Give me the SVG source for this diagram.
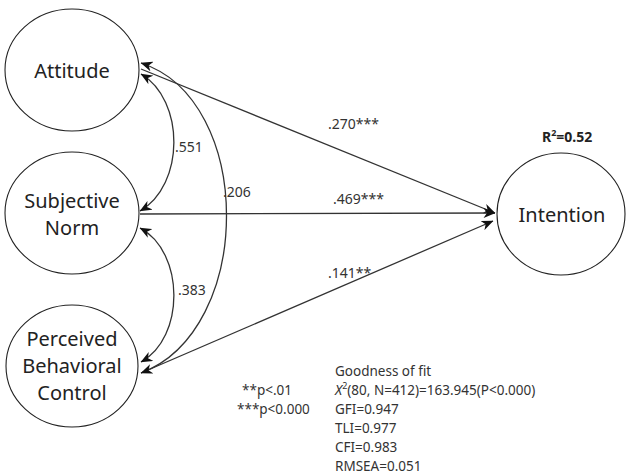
<svg xmlns="http://www.w3.org/2000/svg" width="626" height="476" viewBox="0 0 626 476">
<defs>
<style>
.node ellipse{fill:#fff;stroke:#222;stroke-width:1.1}
.nt{font-family:"Noto Sans","Open Sans","DejaVu Sans",sans-serif;font-size:20px;fill:#222;text-anchor:middle}
.lbl{font-family:"Noto Sans","Open Sans","DejaVu Sans",sans-serif;font-size:14px;fill:#333}
.fit{font-family:"Noto Sans","Open Sans","DejaVu Sans",sans-serif;font-size:13.5px;fill:#333}
.conn path{fill:none;stroke:#333;stroke-width:1.3}
</style>
<marker id="ah" viewBox="0 0 12 10" refX="11.5" refY="5" markerWidth="12" markerHeight="10" orient="auto-start-reverse" markerUnits="userSpaceOnUse">
<path d="M0,0 L12,5 L0,10 L3.5,5 z" fill="#111"/>
</marker>
</defs>
<rect width="626" height="476" fill="#fff"/>

<g id="connectors" class="conn">
<path d="M141,69 L495,213" marker-end="url(#ah)"/>
<path d="M140,214 L495,213" marker-end="url(#ah)"/>
<path d="M141,373 L493,221" marker-end="url(#ah)"/>
<path d="M141,74 C185,100 185,185 140,211" marker-start="url(#ah)" marker-end="url(#ah)"/>
<path d="M140,228 C185,252 185,338 141,362" marker-start="url(#ah)" marker-end="url(#ah)"/>
<path d="M141,63 C255,100 255,330 141,373" marker-start="url(#ah)" marker-end="url(#ah)"/>
</g>

<g id="attitude" class="node">
<ellipse cx="72" cy="70" rx="67" ry="61"/>
<text class="nt" x="72" y="78">Attitude</text>
</g>
<g id="subjective-norm" class="node">
<ellipse cx="72" cy="213" rx="67" ry="61"/>
<text class="nt" x="72" y="208">Subjective</text>
<text class="nt" x="72" y="235">Norm</text>
</g>
<g id="pbc" class="node">
<ellipse cx="72" cy="366" rx="66" ry="61"/>
<text class="nt" x="72" y="346">Perceived</text>
<text class="nt" x="72" y="373">Behavioral</text>
<text class="nt" x="72" y="400">Control</text>
</g>
<g id="intention" class="node">
<ellipse cx="561" cy="214" rx="64" ry="61"/>
<text class="nt" x="562" y="222">Intention</text>
</g>

<g id="labels">
<text class="lbl" x="175" y="152">.551</text>
<text class="lbl" x="223" y="197">.206</text>
<text class="lbl" x="178" y="295">.383</text>
<text class="lbl" x="328" y="129">.270***</text>
<text class="lbl" x="333" y="204">.469***</text>
<text class="lbl" x="328" y="278">.141**</text>
<text x="542" y="142" font-family="Noto Sans, Open Sans, sans-serif" font-size="14" font-weight="bold" fill="#222">R<tspan font-size="9" dy="-6">2</tspan><tspan dy="6">=0.52</tspan></text>
<text class="fit" x="242" y="395">**p&lt;.01</text>
<text class="fit" x="237" y="414">***p&lt;0.000</text>
<text class="fit" x="335" y="376">Goodness of fit</text>
<text class="fit" x="335" y="395"><tspan font-style="italic">X</tspan><tspan font-size="9" dy="-6">2</tspan><tspan dy="6">(80, N=412)=163.945(P&lt;0.000)</tspan></text>
<text class="fit" x="335" y="414">GFI=0.947</text>
<text class="fit" x="335" y="433">TLI=0.977</text>
<text class="fit" x="335" y="452">CFI=0.983</text>
<text class="fit" x="335" y="471">RMSEA=0.051</text>
</g>
</svg>
